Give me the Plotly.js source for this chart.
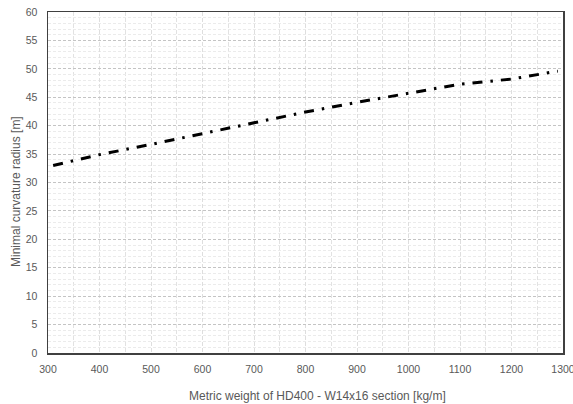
<!DOCTYPE html>
<html>
<head>
<meta charset="utf-8">
<script src="https://cdn.plot.ly/plotly-3.0.1.min.js"></script>
<style>html,body{margin:0;padding:0;background:#fff;}#chart{width:573px;height:404px;}</style>
</head>
<body>
<div id="chart"></div>
<script>
const weights = [310, 400, 500, 600, 700, 800, 900, 1000, 1100, 1200, 1290];
const radius = [33.0, 34.9, 36.7, 38.6, 40.5, 42.4, 44.1, 45.7, 47.3, 48.2, 49.6];
const xTicks = [300, 400, 500, 600, 700, 800, 900, 1000, 1100, 1200, 1300];
const yTicks = [0, 5, 10, 15, 20, 25, 30, 35, 40, 45, 50, 55, 60];
const xTitle = 'Metric weight of HD400 - W14x16 section [kg/m]';
const yTitle = 'Minimal curvature radius [m]';

const fam = 'Liberation Sans, Arial, sans-serif';
const font = {family: fam, size: 10.5, color: '#595959'};
const titleFont = {family: fam, size: 12, color: '#595959'};

Plotly.newPlot('chart', [{
  x: weights, y: radius, type: 'scatter', mode: 'lines',
  line: {color: '#000000', width: 3, dash: '10px,8px,2.5px,8px'},
  hoverinfo: 'skip'
}], {
  width: 573, height: 404,
  margin: {l: 48, r: 10, t: 12, b: 51},
  paper_bgcolor: '#ffffff', plot_bgcolor: '#ffffff',
  showlegend: false,
  font: font,
  xaxis: {
    range: [300, 1300], tickmode: 'array', tickvals: xTicks, ticktext: xTicks.map(String),
    ticklabeloverflow: 'allow',
    showgrid: true, gridcolor: '#dedede', griddash: '4px,2px', gridwidth: 1,
    minor: {tickmode: 'linear', tick0: 350, dtick: 100, showgrid: true, gridcolor: '#e2e2e2', griddash: '4px,2px', gridwidth: 1},
    showline: true, linecolor: '#404040', linewidth: 1.5, mirror: true,
    ticks: '', zeroline: false, tickfont: font, ticklabelstandoff: 6
  },
  yaxis: {
    range: [0, 60], tickmode: 'array', tickvals: yTicks, ticktext: yTicks.map(String),
    ticklabeloverflow: 'allow',
    showgrid: true, gridcolor: '#c4c4c4', griddash: '3px,2px', gridwidth: 1,
    minor: {tickmode: 'linear', tick0: 0, dtick: 1, showgrid: true, gridcolor: '#ebebeb', griddash: '3px,2px', gridwidth: 1},
    showline: true, linecolor: '#404040', linewidth: 1.5, mirror: true,
    ticks: '', zeroline: false, tickfont: font, ticklabelstandoff: 7
  },
  annotations: [
    {text: xTitle, xref: 'paper', yref: 'paper', x: 317, y: 396, xanchor: 'center', yanchor: 'middle', showarrow: false, font: titleFont},
    {text: yTitle, xref: 'paper', yref: 'paper', x: 16, y: 192, xanchor: 'center', yanchor: 'middle', textangle: -90, showarrow: false, font: titleFont}
  ]
}, {staticPlot: true, displayModeBar: false}).then(function(gd){
  // convert pixel positions of titles into paper coordinates
  const fs = gd._fullLayout._size;
  const anns = gd.layout.annotations.map(function(a){
    return Object.assign({}, a, {x: (a.x - fs.l) / fs.w, y: 1 - (a.y - fs.t) / fs.h});
  });
  return Plotly.relayout(gd, {annotations: anns});
});
</script>
</body>
</html>
